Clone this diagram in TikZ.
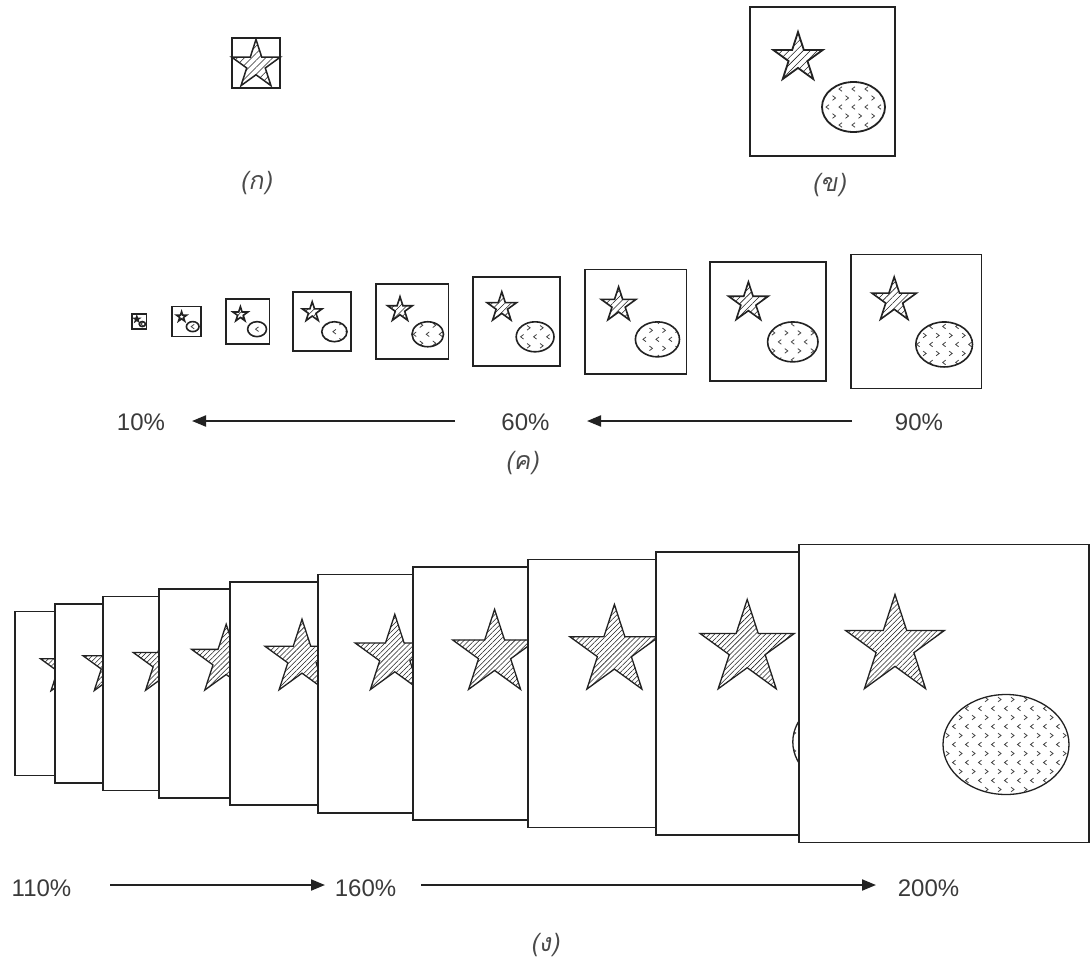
\documentclass[tikz,border=0pt]{standalone}
\usepackage{fontspec}
\setmainfont{Liberation Sans}
\newfontfamily\thaifont[Script=Thai,FakeSlant=0.18]{Loma}
\usetikzlibrary{arrows.meta,patterns.meta}
\definecolor{ink}{HTML}{222222}
\definecolor{chevc}{HTML}{444444}
\definecolor{txt}{HTML}{3A3A3A}
\definecolor{lbl}{HTML}{4A4A4A}
\tikzset{
  pct/.style={text=txt,font=\fontsize{24}{28}\selectfont,inner sep=0pt},
  thlbl/.style={text=lbl,font=\thaifont\fontsize{25}{30}\selectfont,inner sep=0pt},
  chev/.style={chevc,line width=0.8pt},
  arr/.style={ink,line width=2pt,-{Triangle[length=14pt,width=11pt]}},
}
% star: cx cy R hatch-distance line-width
\newcommand\hstar[5]{%
  \pgfmathsetmacro\myRi{0.382*#3}%
  \draw[ink,line width=#5,line join=miter,
        pattern={Lines[angle=45,distance=#4pt,line width=0.55pt]},pattern color=ink]
   (#1,#2) +(-90:#3) -- +(-54:\myRi) -- +(-18:#3) -- +(18:\myRi) -- +(54:#3)
   -- +(90:\myRi) -- +(126:#3) -- +(162:\myRi) -- +(198:#3) -- +(234:\myRi) -- cycle;}
% ellipse with chevrons: cx cy rx ry line-width
\newcommand\chevell[5]{%
  \begin{scope}
    \clip (#1,#2) ellipse [x radius=#3, y radius=#4];
    \pgfmathtruncatemacro\myNX{#3/13+1}%
    \pgfmathtruncatemacro\myNXm{-\myNX}%
    \pgfmathtruncatemacro\myNY{#4/9+1}%
    \pgfmathtruncatemacro\myNYm{-\myNY}%
    \foreach \i in {\myNXm,...,\myNX}{
      \foreach \j in {\myNYm,...,\myNY}{
        \pgfmathtruncatemacro\myO{mod(abs(\j),2)}%
        \pgfmathsetmacro\myPX{#1+13*\i+6.5*\myO}%
        \pgfmathsetmacro\myPY{#2+9*\j}%
        \pgfmathsetmacro\myD{1.5*(1-2*\myO)}%
        \draw[chev] ({\myPX+\myD},{\myPY-2.3}) -- ({\myPX-\myD},\myPY) -- ({\myPX+\myD},{\myPY+2.3});
      }}
  \end{scope}
  \draw[ink,line width=#5] (#1,#2) ellipse [x radius=#3, y radius=#4];}
% frame: left top scale hatchdist boxlw shapelw
\newcommand\picframe[6]{%
  \pgfmathsetmacro\myFW{145*#3}%
  \pgfmathsetmacro\myFH{149*#3}%
  \pgfmathsetmacro\mySX{#1+48*#3}%
  \pgfmathsetmacro\mySY{#2+51*#3}%
  \pgfmathsetmacro\mySR{26*#3}%
  \pgfmathsetmacro\myEX{#1+103.5*#3}%
  \pgfmathsetmacro\myEY{#2+100*#3}%
  \pgfmathsetmacro\myERX{31.5*#3}%
  \pgfmathsetmacro\myERY{25*#3}%
  \draw[ink,line width=#5,fill=white] (#1,#2) rectangle ++(\myFW,\myFH);
  \hstar{\mySX}{\mySY}{\mySR}{#4}{#6}
  \chevell{\myEX}{\myEY}{\myERX}{\myERY}{#6}}

\begin{document}
\begin{tikzpicture}[x=1pt,y=-1pt]
\useasboundingbox (0,0) rectangle (1090,967);

% (a)
\draw[ink,line width=1.6pt] (232,38) rectangle (280,88);
\hstar{256}{65}{25.5}{5}{1.5}
\node[thlbl] (la) at (256,183) {(ก)};

% (b)
\picframe{750}{7}{1}{5}{2}{1.8}
\node[thlbl] (lb) at (829,185) {(ข)};

% (c)
\foreach \s/\l in {0.1/132,0.2/172,0.3/226,0.4/293,0.5/376,0.6/473,0.7/585,0.8/710,0.9/851}{
  \pgfmathsetmacro\myT{321.5-74.5*\s}
  \picframe{\l}{\myT}{\s}{4.5}{1.7}{1.6}
}
\node[pct] (p10) at (141,422) {10\%};
\node[pct] (p60) at (525.5,422) {60\%};
\node[pct] (p90) at (919,422) {90\%};
\coordinate (c1s) at (455,421);
\coordinate (c1e) at (192,421);
\coordinate (c2s) at (852,421);
\coordinate (c2e) at (587,421);
\draw[arr] (c1s) -- (c1e);
\draw[arr] (c2s) -- (c2e);
\node[thlbl] (lc) at (522,463) {(ค)};

% (d)
\foreach \s/\l in {1.1/15,1.2/55,1.3/103,1.4/159,1.5/230,1.6/318,1.7/413,1.8/528,1.9/656,2.0/799}{
  \pgfmathsetmacro\myT{693.5-74.5*\s}
  \picframe{\l}{\myT}{\s}{3.6}{1.6}{1.3}
}
\node[pct] (p110) at (41.5,888) {110\%};
\node[pct] (p160) at (365.5,888) {160\%};
\node[pct] (p200) at (928.5,888) {200\%};
\coordinate (d1s) at (110,885);
\coordinate (d1e) at (325,885);
\coordinate (d2s) at (421,885);
\coordinate (d2e) at (876,885);
\draw[arr] (d1s) -- (d1e);
\draw[arr] (d2s) -- (d2e);
\node[thlbl] (ld) at (545,945) {(ง)};
\end{tikzpicture}
\end{document}
